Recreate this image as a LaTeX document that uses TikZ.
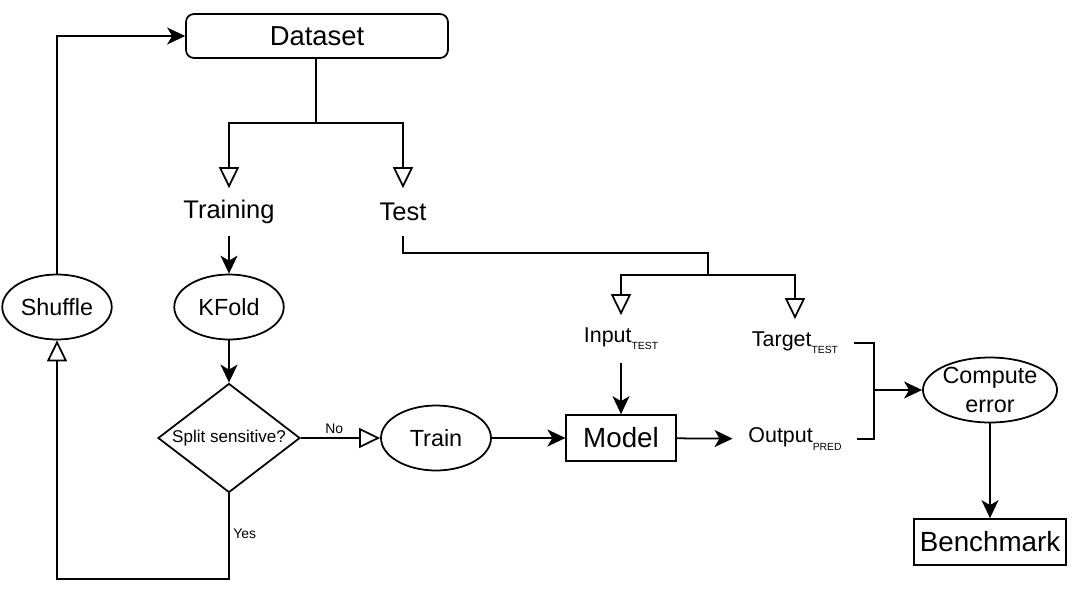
\documentclass[tikz,border=0pt]{standalone}
\usepackage{fontspec}
\setmainfont{Liberation Sans}
\usetikzlibrary{arrows.meta, positioning, shapes.geometric}
\newcommand{\lowtag}[1]{\raisebox{-4pt}{\fontsize{5.9}{6}\selectfont #1}}

\begin{document}
\begin{tikzpicture}[
  x=0.02cm, y=-0.02cm,
  line width=1pt,
  rbox/.style={rectangle, draw, rounded corners=0.16cm, minimum width=5.24cm, minimum height=0.88cm, font=\fontsize{15.6}{18}\selectfont},
  box/.style={rectangle, draw, minimum height=0.92cm, font=\fontsize{15.8}{18}\selectfont},
  oval/.style={ellipse, draw, minimum width=2.19cm, minimum height=1.3cm, inner sep=0pt, align=center, font=\fontsize{13.3}{16.4}\selectfont},
  decision/.style={diamond, draw, aspect=1.3, inner sep=0pt, minimum width=2.84cm, minimum height=2.18cm, font=\fontsize{9.7}{11}\selectfont},
  txt/.style={inner xsep=0.3cm, inner ysep=0pt, minimum height=0.92cm, font=\fontsize{12.2}{14}\selectfont},
  lbl/.style={inner sep=2pt, font=\fontsize{7.9}{9}\selectfont},
  arrow/.style={-{Stealth[length=0.36cm, width=0.34cm, inset=0.1cm]}},
  openarrow/.style={-{Triangle[open, length=0.42cm, width=0.4cm]}}
]
\useasboundingbox (0,0) rectangle (1079,596);

\node[rbox] (dataset) at (317,36) {Dataset};
\node[txt, font=\fontsize{14.5}{16}\selectfont] (training) at (229,212) {Training};
\node[txt, font=\fontsize{14.5}{16}\selectfont] (test) at (403,212) {Test};
\node[oval] (shuffle) at (57,307) {Shuffle};
\node[oval] (kfold) at (229,307) {KFold};
\node[decision] (split) at (229,438) {Split sensitive?};
\node[oval, minimum width=2.2cm] (train) at (436,438) {Train};
\node[box, minimum width=2.19cm] (model) at (621,438) {Model};
\node[txt] (input) at (621,339) {Input\lowtag{TEST}};
\node[txt] (target) at (795,343) {Target\lowtag{TEST}};
\node[txt] (output) at (795,439) {Output\lowtag{PRED}};
\node[oval, minimum width=2.63cm] (compute) at (990,390) {Compute\\error};
\node[box, minimum width=2.96cm] (bench) at (990,542) {Benchmark};

\coordinate (split1) at (316,123);
\coordinate (split2) at (708,275);
\coordinate (merge) at (874,390);
\coordinate (loop) at (229,579);

\draw (dataset.south -| split1) -- (split1);
\draw[openarrow] (split1) -| (training.north);
\draw[openarrow] (split1) -| (test.north);
\draw[arrow] (training) -- (kfold);
\draw[arrow] (kfold) -- (split);
\draw[openarrow] (split.east) -- node[lbl, above, pos=0.42] {No} (train.west);
\draw[openarrow] (split.south) -- node[lbl, right, pos=0.47] {Yes} (loop) -| (shuffle.south);
\draw[arrow] (shuffle.north) |- (dataset.west);
\draw (test.south) |- (708,253) -- (split2);
\draw[openarrow] (split2) -| (input.north);
\draw[openarrow] (split2) -| (target.north);
\draw[arrow] (input) -- (model);
\draw[arrow] (train) -- (model);
\draw[arrow] (model) -- (output);
\draw (target.east) -| (merge) |- (output.east);
\draw[arrow] (merge) -- (compute.west);
\draw[arrow] (compute) -- (bench);

\end{tikzpicture}
\end{document}
